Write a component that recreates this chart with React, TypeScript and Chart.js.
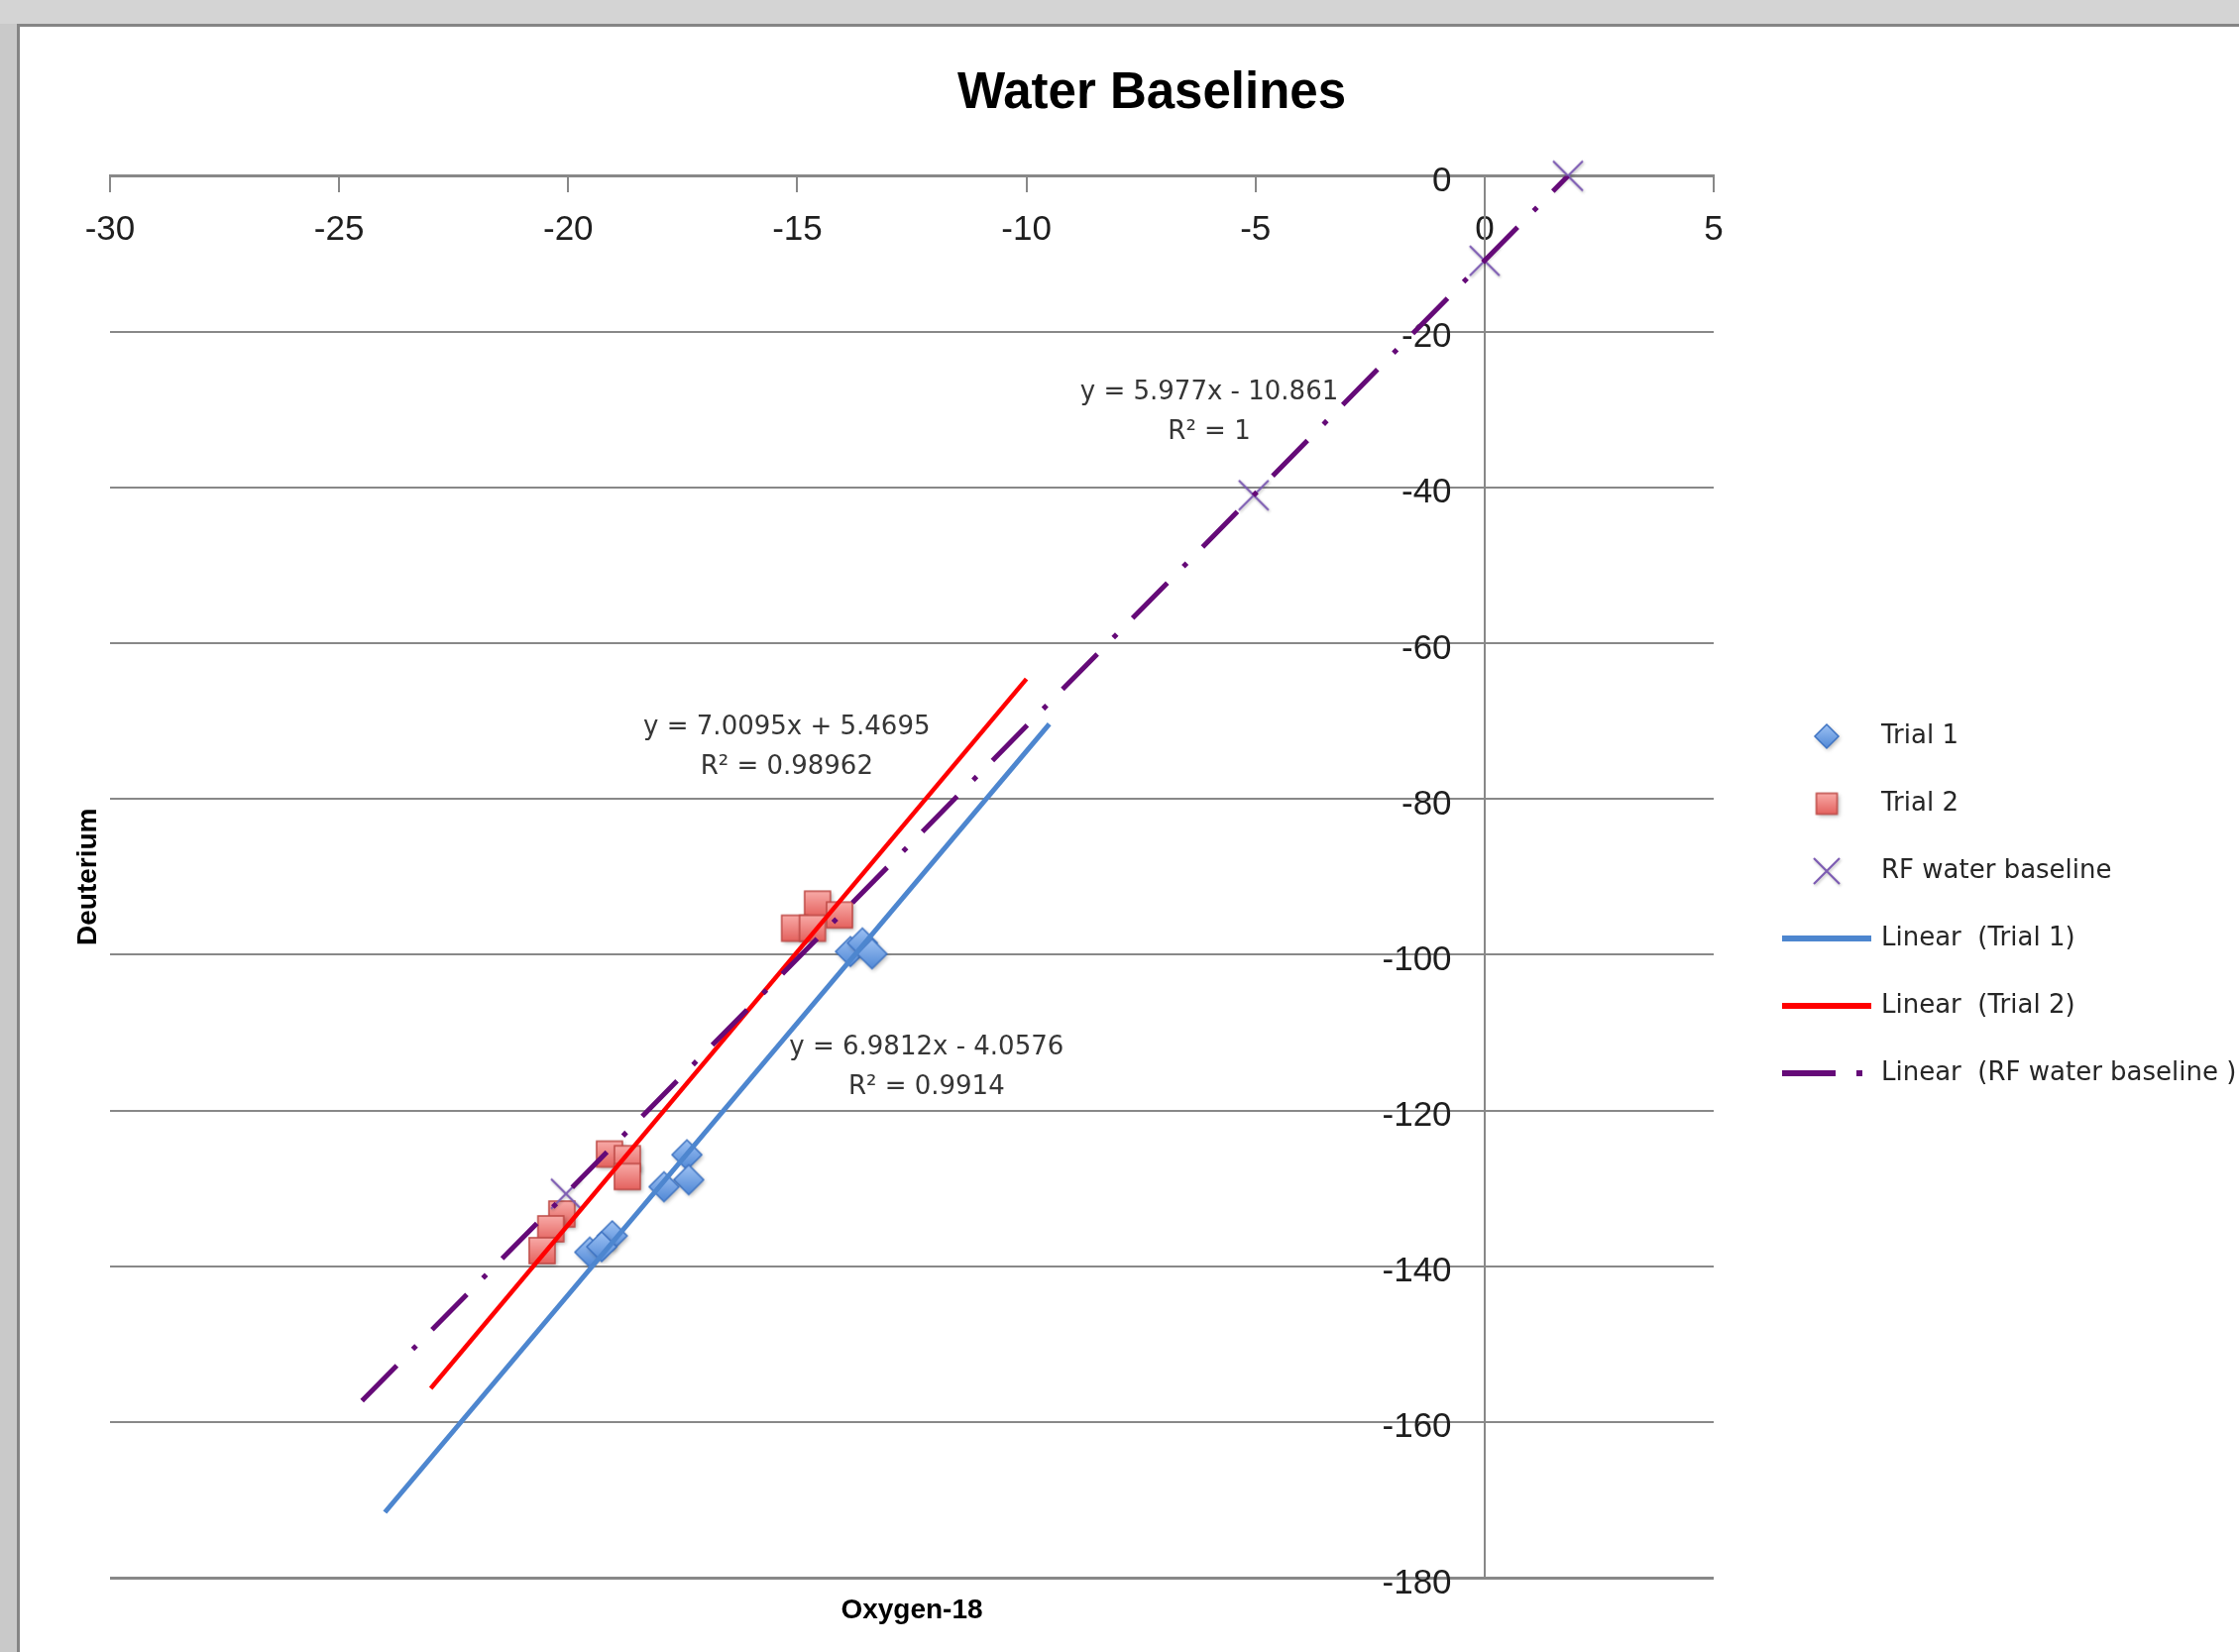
import React, { useEffect, useRef } from "react";
import { Chart, registerables } from "chart.js";

Chart.register(...registerables);

// ---------------- data ----------------
const trial1X = [-17.41, -17.37, -17.91, -19.04, -19.53, -19.27, -13.84, -13.58, -13.37];
const trial1Y = [-125.7, -128.9, -129.8, -136.1, -138.2, -137.5, -99.6, -98.5, -99.9];

const trial2X = [-19.1, -18.71, -18.71, -20.14, -20.38, -20.57, -14.56, -15.06, -14.67, -14.08];
const trial2Y = [-125.6, -126.2, -128.5, -133.3, -135.2, -138.0, -93.5, -96.6, -96.6, -94.9];

const rfX = [-20.05, -5.04, 0.0, 1.82];
const rfY = [-130.7, -41.0, -10.9, 0.0];

// trendline end points
const trend1X = [-24.0, -9.5];
const trend1Y = [-171.6, -70.4];
const trend2X = [-23.0, -10.0];
const trend2Y = [-155.7, -64.6];
const trendRfX = [-24.5, 1.82];
const trendRfY = [-157.3, 0.0];

const xTickValues = [-30, -25, -20, -15, -10, -5, 0, 5];
const yTickValues = [0, -20, -40, -60, -80, -100, -120, -140, -160, -180];

const seriesNames = [
  "Trial 1",
  "Trial 2",
  "RF water baseline",
  "Linear  (Trial 1)",
  "Linear  (Trial 2)",
  "Linear  (RF water baseline )",
];

const eqLine1 = ["y = 6.9812x - 4.0576", "y = 7.0095x + 5.4695", "y = 5.977x - 10.861"];
const eqLine2 = ["R\u00b2 = 0.9914", "R\u00b2 = 0.98962", "R\u00b2 = 1"];
const eqX = [-12.18, -15.23, -6.01];
const eqY1 = [-111.9, -70.8, -27.9];
const eqY2 = [-117.0, -76.0, -32.9];

const chartTitle = "Water Baselines";
const xTitle = "Oxygen-18";
const yTitle = "Deuterium";

// ---------------- helpers ----------------
const zip = (xs: number[], ys: number[]) => xs.map((x, i) => ({ x, y: ys[i] }));

function mk(w: number, h: number, draw: (g: CanvasRenderingContext2D) => void) {
  const c = document.createElement("canvas");
  c.width = w;
  c.height = h;
  const g = c.getContext("2d") as CanvasRenderingContext2D;
  draw(g);
  return c;
}

function diamondIcon(size: number) {
  const pad = 7;
  const S = Math.round(size + pad * 2);
  return mk(S, S, (g) => {
    const c = S / 2;
    const r = size / 2;
    g.shadowColor = "rgba(0,0,0,0.30)";
    g.shadowBlur = 4;
    g.shadowOffsetX = 1.5;
    g.shadowOffsetY = 2;
    g.beginPath();
    g.moveTo(c, c - r);
    g.lineTo(c + r, c);
    g.lineTo(c, c + r);
    g.lineTo(c - r, c);
    g.closePath();
    const gr = g.createLinearGradient(0, c - r, 0, c + r);
    gr.addColorStop(0, "#9dc1f3");
    gr.addColorStop(1, "#5088d6");
    g.fillStyle = gr;
    g.fill();
    g.shadowColor = "transparent";
    g.lineWidth = 1.5;
    g.strokeStyle = "#3f74c3";
    g.stroke();
  });
}

function squareIcon(size: number) {
  const pad = 7;
  const S = Math.round(size + pad * 2);
  return mk(S, S, (g) => {
    const c = S / 2;
    const r = size / 2;
    g.shadowColor = "rgba(0,0,0,0.30)";
    g.shadowBlur = 4;
    g.shadowOffsetX = 1.5;
    g.shadowOffsetY = 2;
    const gr = g.createLinearGradient(0, c - r, 0, c + r);
    gr.addColorStop(0, "#f8aaa7");
    gr.addColorStop(1, "#e4625e");
    g.fillStyle = gr;
    g.fillRect(c - r, c - r, size, size);
    g.shadowColor = "transparent";
    g.lineWidth = 1.5;
    g.strokeStyle = "#bf4a46";
    g.strokeRect(c - r, c - r, size, size);
  });
}

function crossIcon(size: number) {
  const pad = 6;
  const S = Math.round(size + pad * 2);
  return mk(S, S, (g) => {
    const c = S / 2;
    const r = size / 2;
    g.shadowColor = "rgba(0,0,0,0.25)";
    g.shadowBlur = 3;
    g.shadowOffsetX = 1;
    g.shadowOffsetY = 1.5;
    g.strokeStyle = "#7d5cb3";
    g.lineWidth = 2.2;
    g.beginPath();
    g.moveTo(c - r, c - r);
    g.lineTo(c + r, c + r);
    g.moveTo(c + r, c - r);
    g.lineTo(c - r, c + r);
    g.stroke();
  });
}

function lineIcon(color: string, dashed: boolean) {
  return mk(90, 12, (g) => {
    g.strokeStyle = color;
    g.lineWidth = 6;
    g.lineCap = "butt";
    g.beginPath();
    if (dashed) {
      g.moveTo(0, 6);
      g.lineTo(54, 6);
      g.moveTo(75, 6);
      g.lineTo(81, 6);
    } else {
      g.moveTo(0, 6);
      g.lineTo(90, 6);
    }
    g.stroke();
  });
}

const equationPlugin = {
  id: "trendEquations",
  afterDatasetsDraw(chart: any) {
    const { ctx } = chart;
    const sx = chart.scales.x;
    const sy = chart.scales.y;
    ctx.save();
    ctx.font = '26px "DejaVu Sans"';
    ctx.fillStyle = "#363636";
    ctx.textAlign = "center";
    ctx.textBaseline = "middle";
    eqLine1.forEach((t, i) => {
      const px = sx.getPixelForValue(eqX[i]);
      ctx.fillText(t, px, sy.getPixelForValue(eqY1[i]));
      ctx.fillText(eqLine2[i], px, sy.getPixelForValue(eqY2[i]));
    });
    ctx.restore();
  },
};

// let the legend text run on to the edge of the canvas instead of being cut at the legend box
const legendExtendPlugin = {
  id: "legendExtend",
  afterLayout(chart: any) {
    const lg = chart.legend;
    if (lg) {
      lg.right = chart.width;
      lg.width = lg.right - lg.left;
    }
  },
};

const GRID = "#888888";
const TICK_FONT = { family: "Liberation Sans", size: 35 };

export default function App() {
  const ref = useRef<HTMLCanvasElement>(null);

  useEffect(() => {
    const canvas = ref.current as HTMLCanvasElement;
    const diamond = diamondIcon(30);
    const square = squareIcon(26);
    const cross = crossIcon(30);
    const legendIcons = [
      diamondIcon(24),
      squareIcon(21),
      crossIcon(26),
      lineIcon("#4d86cf", false),
      lineIcon("#ff0000", false),
      lineIcon("#650a78", true),
    ];

    const hiddenAxis = (width: number, position: any, weight?: number) => ({
      type: "linear",
      axis: "y",
      position,
      min: -180,
      max: 0,
      weight: weight ?? 0,
      grid: { display: false, drawTicks: false },
      border: { display: false },
      ticks: { display: false },
      afterFit: (s: any) => {
        s.width = width;
      },
    });

    const chart = new Chart(canvas, {
      type: "scatter",
      data: {
        datasets: [
          {
            label: seriesNames[0],
            data: zip(trial1X, trial1Y),
            pointStyle: diamond as any,
            pointRadius: 15,
            order: 5,
            clip: false as any,
          },
          {
            label: seriesNames[1],
            data: zip(trial2X, trial2Y),
            pointStyle: square as any,
            pointRadius: 13,
            order: 4,
            clip: false as any,
          },
          {
            label: seriesNames[2],
            data: zip(rfX, rfY),
            pointStyle: cross as any,
            pointRadius: 15,
            order: 3,
            clip: false as any,
          },
          {
            label: seriesNames[3],
            data: zip(trend1X, trend1Y),
            showLine: true,
            borderColor: "#4d86cf",
            borderWidth: 5,
            pointRadius: 0,
            borderCapStyle: "butt",
            order: 2,
          },
          {
            label: seriesNames[4],
            data: zip(trend2X, trend2Y),
            showLine: true,
            borderColor: "#ff0000",
            borderWidth: 4.5,
            pointRadius: 0,
            borderCapStyle: "butt",
            order: 1,
          },
          {
            label: seriesNames[5],
            data: zip(trendRfX, trendRfY),
            showLine: true,
            borderColor: "#650a78",
            borderWidth: 5,
            borderDash: [50, 23, 5, 22.75],
            pointRadius: 0,
            borderCapStyle: "butt",
            order: 0,
          },
        ] as any,
      },
      options: {
        responsive: false,
        animation: false,
        devicePixelRatio: 1,
        events: [],
        layout: { padding: { left: 60, right: 0, top: 40, bottom: 20 } },
        scales: {
          x: {
            type: "linear",
            position: { y: 0 } as any,
            min: -30,
            max: 5,
            afterBuildTicks: (s: any) => {
              s.ticks = xTickValues.map((v) => ({ value: v }));
            },
            grid: { drawOnChartArea: false, drawTicks: true, tickLength: 15, color: GRID, lineWidth: 2 },
            border: { display: true, color: GRID, width: 3 },
            ticks: { font: TICK_FONT, color: "#1e1e1e", padding: 19, maxRotation: 0, autoSkip: false },
          },
          y: {
            type: "linear",
            position: { x: 0 } as any,
            min: -180,
            max: 0,
            afterBuildTicks: (s: any) => {
              s.ticks = yTickValues.map((v) => ({ value: v }));
            },
            grid: {
              color: GRID,
              lineWidth: (c: any) => (c.tick && (c.tick.value === 0 || c.tick.value === -180) ? 3 : 2),
              drawTicks: false,
            },
            border: { display: true, color: GRID, width: 2 },
            ticks: { display: false },
          },
          yLab: {
            type: "linear",
            axis: "y",
            position: { x: -0.72 } as any,
            min: -180,
            max: 0,
            afterBuildTicks: (s: any) => {
              s.ticks = yTickValues.map((v) => ({ value: v }));
            },
            grid: { display: false, drawTicks: false },
            border: { display: false },
            ticks: { font: TICK_FONT, color: "#1e1e1e", padding: 0, labelOffset: 6, autoSkip: false },
          },
          yTitle: {
            ...hiddenAxis(51, "left"),
            title: {
              display: true,
              text: yTitle,
              font: { family: "Liberation Sans", size: 28, weight: "bold" },
              color: "#000",
              padding: { top: 12.2, bottom: 0 },
            },
          },
          yGap: hiddenAxis(30, "right", 0),
          yOuter: hiddenAxis(321.33, "right", 2000),
        } as any,
        plugins: {
          title: {
            display: true,
            text: chartTitle,
            fullSize: true,
            font: { family: "Liberation Sans", size: 51, weight: "bold" },
            color: "#000",
            padding: { top: 24, bottom: 52.3 },
          },
          subtitle: {
            display: true,
            position: "bottom",
            text: xTitle,
            fullSize: false,
            font: { family: "Liberation Sans", size: 28, weight: "bold" },
            color: "#000",
            padding: { top: 16.2, bottom: 5.2 },
          },
          legend: {
            position: "right",
            align: "start",
            title: { display: true, text: " ", font: { size: 12 }, padding: { top: 633.6, bottom: 0 } },
            labels: {
              usePointStyle: true,
              pointStyleWidth: 84,
              padding: 42,
              font: { family: "DejaVu Sans", size: 26 },
              color: "#262626",
              generateLabels: () =>
                seriesNames.map((t, i) => ({
                  text: t,
                  pointStyle: legendIcons[i],
                  fillStyle: "rgba(0,0,0,0)",
                  strokeStyle: "rgba(0,0,0,0)",
                  lineWidth: 0,
                  hidden: false,
                  datasetIndex: i,
                  fontColor: "#262626",
                })) as any,
            },
          },
          tooltip: { enabled: false },
        } as any,
      },
      plugins: [equationPlugin, legendExtendPlugin],
    } as any);

    return () => chart.destroy();
  }, []);

  return (
    <div
      style={{
        position: "fixed",
        left: 0,
        top: 0,
        width: 2259,
        height: 1667,
        overflow: "hidden",
        background: "#d4d4d4",
      }}
    >
      <div style={{ position: "absolute", left: 0, top: 24, width: 17, bottom: 0, background: "#c9c9c9" }} />
      <div
        style={{
          position: "absolute",
          left: 17,
          top: 24,
          width: 2400,
          height: 1800,
          background: "#ffffff",
          borderLeft: "3px solid #858585",
          borderTop: "3px solid #858585",
        }}
      />
      <canvas
        ref={ref}
        width={2264}
        height={1667}
        style={{ position: "absolute", left: 0, top: 0, width: 2264, height: 1667 }}
      />
    </div>
  );
}
